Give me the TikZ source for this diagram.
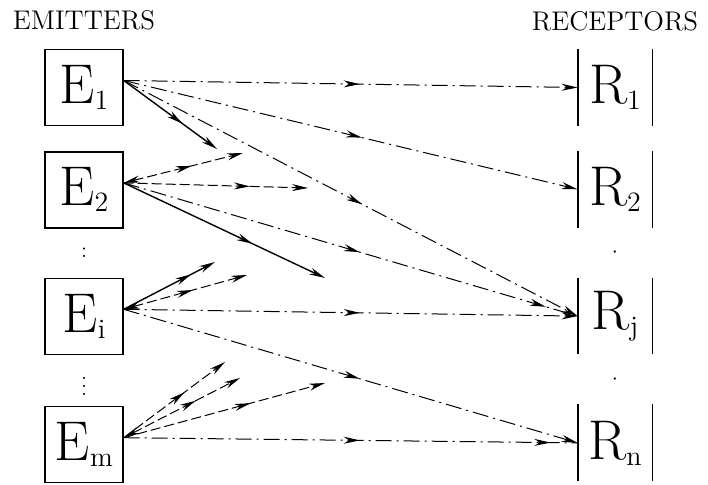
\documentclass[tikz,border=0pt]{standalone}
\usetikzlibrary{arrows.meta,positioning,decorations.markings}

\newcommand{\idx}[1]{\raisebox{-3pt}{\fontsize{14}{14}\selectfont #1}}

\begin{document}
\begin{tikzpicture}[
    x=0.5pt, y=-0.5pt,
    >={Stealth[length=8pt,width=3.5pt]},
    % Nodes
    emitter/.style={rectangle, draw=black, line width=0.7pt, minimum width=39pt, minimum height=38pt, inner sep=0pt, font=\fontsize{28}{28}\selectfont},
    receptor/.style={rectangle, minimum width=37pt, minimum height=38pt, inner sep=0pt, font=\fontsize{28}{28}\selectfont},
    bar/.style={line width=0.9pt},
    heading/.style={inner sep=0pt, font=\fontsize{13.5}{15}\selectfont},
    dots/.style={inner sep=0pt, font=\fontsize{11}{11}\selectfont},
    % Rays
    longray/.style={line width=0.5pt, dash pattern=on 8pt off 2.5pt on 1pt off 2.5pt},
    shortray/.style={line width=0.7pt},
    faintray/.style={line width=0.5pt, dash pattern=on 5pt off 2pt},
    midarrow/.style={postaction={decorate, decoration={markings, mark=at position #1 with {\arrow{>}}}}}
]
\useasboundingbox (0,0) rectangle (708,485);

% Emitters
\node[emitter] (E1) at (84,87.5) {E\idx{1}};
\node[emitter, below=12.5pt of E1] (E2) {E\idx{2}};
\node[emitter, below=24.5pt of E2] (Ei) {E\idx{i}};
\node[emitter, below=25.5pt of Ei] (Em) {E\idx{m}};
\node[heading, above=9pt of E1] (emit) {EMITTERS};

% Receptors
\node[receptor] (R1) at (615,87.5) {R\idx{1}};
\node[receptor, below=12.5pt of R1] (R2) {R\idx{2}};
\node[receptor, below=25pt of R2] (Rj) {R\idx{j}};
\node[receptor, below=25pt of Rj] (Rn) {R\idx{n}};
\node[heading, above=9pt of R1] (recept) {RECEPTORS};
\foreach \r in {R1,R2,Rj,Rn} {
    \draw[bar] (\r.north west) -- (\r.south west);
    \draw[bar] (\r.north east) -- (\r.south east);
}

% Dots between the boxes
\path (E2) -- node[dots] (edotsA) {:} (Ei);
\path (Ei) -- node[dots] (edotsB) {$\vdots$} (Em);
\path (R2) -- node[dots] (rdotsA) {$\cdot$} (Rj);
\path (Rj) -- node[dots] (rdotsB) {$\cdot$} (Rn);

% Free ends of the rays
\coordinate (a1) at (217,149);
\coordinate (b1) at (308,188);
\coordinate (b2) at (243,153);
\coordinate (b3) at (325,278);
\coordinate (c1) at (215,262);
\coordinate (c2) at (247,275);
\coordinate (d1) at (225,362);
\coordinate (d2) at (240,378);
\coordinate (d3) at (325,383);

% Rays of E1
\draw[longray, ->, midarrow=0.52] (E1.10) -- (R1.west);
\draw[longray, ->, midarrow=0.525] (E1.10) -- (R2.west);
\draw[longray, ->, midarrow=0.525] (E1.10) -- (Rj.west);
\draw[shortray, ->, midarrow=0.63] (E1.10) -- (a1);

% Rays of E2
\draw[faintray, ->, midarrow=0.685] (E2.10) -- (b1);
\draw[faintray, <->, midarrow=0.57] (E2.10) -- (b2);
\draw[longray, midarrow=0.52, midarrow=0.93] (E2.10) -- (Rj.west);
\draw[shortray, ->, midarrow=0.64] (E2.10) -- (b3);

% Rays of Ei
\draw[longray, ->, midarrow=0.52] (Ei.10) -- (Rj.west);
\draw[longray, ->, midarrow=0.52] (Ei.10) -- (Rn.west);
\draw[shortray, ->, midarrow=0.74] (Ei.10) -- (c1);
\draw[faintray, <->, midarrow=0.56] (Ei.10) -- (c2);

% Rays of Em
\draw[longray, midarrow=0.52, midarrow=0.94] (Em.10) -- (Rn.west);
\draw[faintray, ->, midarrow=0.6] (Em.10) -- (d1);
\draw[faintray, <->, midarrow=0.62] (Em.10) -- (d2);
\draw[faintray, ->, midarrow=0.63] (Em.10) -- (d3);

\end{tikzpicture}
\end{document}
